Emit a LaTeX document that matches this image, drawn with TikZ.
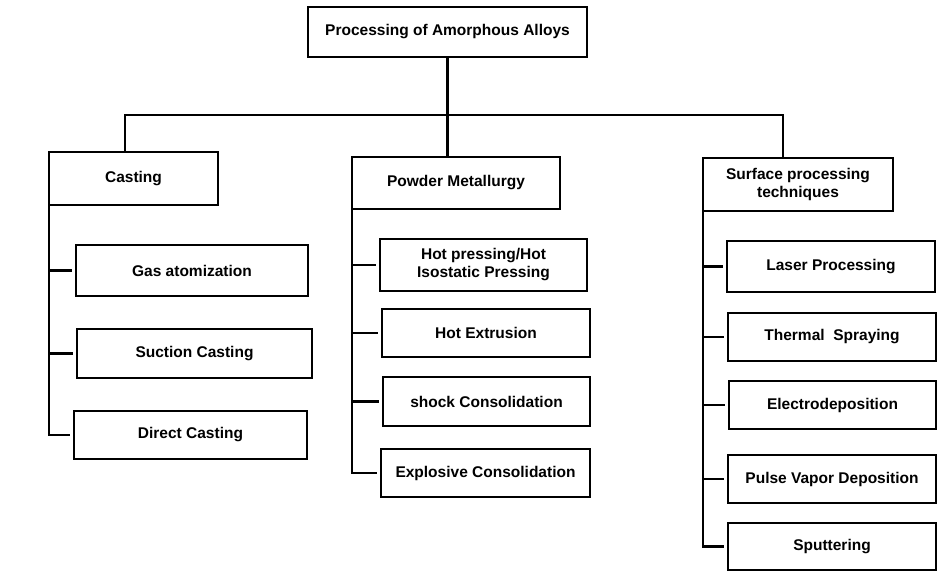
\documentclass[tikz,border=0pt]{standalone}
\usepackage{fontspec}
\setmainfont{Liberation Sans}
\usepackage{tikz}
\usetikzlibrary{calc}
\tikzset{
  ln/.style={line width=2.4pt,black},
  tk/.style={ln,shorten >=4pt},
  box/.style 2 args={draw,line width=2.4pt,outer sep=0pt,inner sep=0pt,align=center,
    minimum width=#1pt,minimum height=#2pt,font=\fontsize{15.5}{18}\selectfont\bfseries}
}

\begin{document}
\begin{tikzpicture}[x=1pt,y=-1pt]
\useasboundingbox (0,0) rectangle (952,571);
\node[box={279}{50}] (root) at (447.5,32) {Processing of Amorphous Alloys};
\node[box={169}{53}] (cast) at (133.5,178.5) {Casting};
\node[box={208}{52}] (powd) at (456,183) {Powder Metallurgy};
\node[box={190}{53}] (surf) at (798,184.5) {Surface processing\\techniques};
% casting
\node[box={232}{51}] (gas) at (192,270.5) {Gas atomization};
\node[box={235}{49}] (suct) at (194.5,353.5) {Suction Casting};
\node[box={233}{48}] (dirc) at (190.5,435) {Direct Casting};
% powder metallurgy
\node[box={207}{52}] (hotp) at (483.5,265) {Hot pressing/Hot\\Isostatic Pressing};
\node[box={208}{48}] (hext) at (486,333) {Hot Extrusion};
\node[box={207}{49}] (shock) at (486.5,401.5) {shock Consolidation};
\node[box={209}{48}] (expl) at (485.5,473) {Explosive Consolidation};
% surface processing
\node[box={208}{51}] (laser) at (831,266.5) {Laser Processing};
\node[box={208}{48}] (therm) at (832,337) {Thermal\ \ Spraying};
\node[box={207}{48}] (elec) at (832.5,405) {Electrodeposition};
\node[box={208}{48}] (pulse) at (832,479) {Pulse Vapor Deposition};
\node[box={208}{47}] (sput) at (832,546.5) {Sputtering};
% tree
\coordinate (bus) at (447.5,115);
\draw[ln] (root) -- (bus);
\draw[ln] ([xshift=-8.5pt]cast.north) |- (bus) -| ([xshift=-15pt]surf.north);
\draw[ln] (bus) -- ([xshift=-8.5pt]powd.north);
\draw[ln] (cast.south west) |- ([xshift=-4pt]dirc.west);
\foreach \n in {gas,suct} \draw[tk] (cast.south west |- \n.west) -- (\n.west);
\draw[ln] (powd.south west) |- ([xshift=-4pt]expl.west);
\foreach \n in {hotp,hext,shock} \draw[tk] (powd.south west |- \n.west) -- (\n.west);
\draw[ln] (surf.south west) |- ([xshift=-4pt]sput.west);
\foreach \n in {laser,therm,elec,pulse} \draw[tk] (surf.south west |- \n.west) -- (\n.west);
\end{tikzpicture}
\end{document}
